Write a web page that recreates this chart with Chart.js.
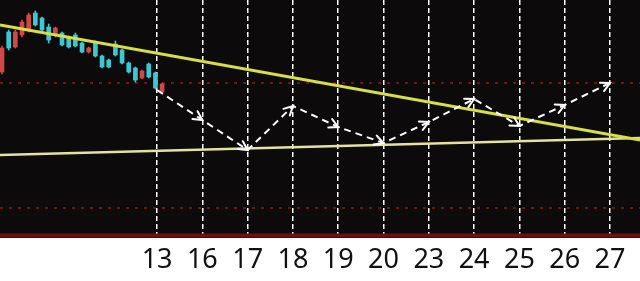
<!DOCTYPE html>
<html>
<head>
<meta charset="utf-8">
<script src="https://cdn.jsdelivr.net/npm/chart.js@4"></script>
<style>
  html, body { margin: 0; padding: 0; background: #ffffff; }
  #wrap { width: 640px; height: 281px; }
</style>
</head>
<body>
<div id="wrap"><canvas id="c"></canvas></div>
<script>
// Trading days marked along the bottom
const dayLabels = ['13', '16', '17', '18', '19', '20', '23', '24', '25', '26', '27'];
// Projected zig-zag path, one value per marked day
const projection = [11.48, 11.18, 10.88, 11.32, 11.11, 10.95, 11.16, 11.39, 11.12, 11.33, 11.55];

// Daily candles (open / close / high / low)
const opens  = [11.66, 12.06, 11.91, 12.03, 12.08, 12.25, 12.20, 12.11, 12.03, 12.05, 12.00, 12.03, 11.95,
                11.86, 11.96, 11.82, 11.78, 11.94, 11.88, 11.75, 11.70, 11.60, 11.74, 11.65, 11.46];
const closes = [11.90, 11.90, 12.06, 12.16, 12.23, 12.13, 12.08, 11.98, 12.10, 11.93, 11.91, 11.92, 11.86,
                11.90, 11.82, 11.71, 11.71, 11.83, 11.75, 11.66, 11.58, 11.67, 11.61, 11.50, 11.54];
const highs  = [11.92, 12.08, 12.08, 12.18, 12.25, 12.27, 12.21, 12.14, 12.11, 12.06, 12.02, 12.05, 11.96,
                11.91, 11.97, 11.83, 11.79, 11.97, 11.89, 11.76, 11.71, 11.68, 11.75, 11.66, 11.55];
const lows   = [11.64, 11.88, 11.90, 12.01, 12.06, 12.12, 12.06, 11.95, 12.01, 11.92, 11.90, 11.91, 11.85,
                11.85, 11.81, 11.70, 11.70, 11.82, 11.74, 11.65, 11.56, 11.59, 11.60, 11.49, 11.44];

// Trend lines: value at the left edge and at the right edge
const resistance = [12.13, 10.98];
const support    = [10.83, 11.00];
// Dotted reference levels and the solid floor line
const levels = [11.55, 10.30];
const floorLevel = 10.025;

// Horizontal scale: one unit per candle
const X_MIN = -0.3, X_MAX = 95.65;
const DAY0 = 23.25, DAY_STEP = 6.79;
const dayX = k => DAY0 + k * DAY_STEP;

const UP = '#d04848', DOWN = '#3ec6d2';
const candleColor = ctx => {
  const i = ctx.dataIndex;
  return closes[i] >= opens[i] ? UP : DOWN;
};

const bodies = opens.map((o, i) => ({ x: i, y: [o, closes[i]] }));
const wicks  = highs.map((h, i) => ({ x: i, y: [lows[i], h] }));
const flat = v => [{ x: X_MIN, y: v }, { x: X_MAX, y: v }];

// Black plotting field
const fieldBg = {
  id: 'fieldBg',
  beforeDraw(chart) {
    const { ctx, chartArea: a } = chart;
    ctx.save();
    ctx.fillStyle = '#0c0a0a';
    ctx.fillRect(a.left, a.top, a.right - a.left, a.bottom - a.top);
    ctx.restore();
  }
};

// Open arrowheads at the end of each leg of the projected path
const arrowHeads = {
  id: 'arrowHeads',
  afterDatasetsDraw(chart) {
    const idx = chart.data.datasets.findIndex(d => d.label === 'projection');
    const pts = chart.getDatasetMeta(idx).data;
    const { ctx } = chart;
    ctx.save();
    ctx.strokeStyle = '#ffffff';
    ctx.lineWidth = 2;
    ctx.lineCap = 'round';
    ctx.setLineDash([]);
    const len = 10, spread = Math.PI / 6.5;
    for (let i = 1; i < pts.length; i++) {
      const p = pts[i], q = pts[i - 1];
      const ang = Math.atan2(p.y - q.y, p.x - q.x);
      ctx.beginPath();
      ctx.moveTo(p.x - len * Math.cos(ang - spread), p.y - len * Math.sin(ang - spread));
      ctx.lineTo(p.x, p.y);
      ctx.lineTo(p.x - len * Math.cos(ang + spread), p.y - len * Math.sin(ang + spread));
      ctx.stroke();
    }
    ctx.restore();
  }
};

new Chart(document.getElementById('c'), {
  type: 'bar',
  data: {
    datasets: [
      { type: 'line', label: 'level-hi', data: flat(levels[0]),
        borderColor: '#6a1616', borderWidth: 2, borderDash: [3, 6], pointRadius: 0, order: 9 },
      { type: 'line', label: 'level-lo', data: flat(levels[1]),
        borderColor: '#6a1616', borderWidth: 2, borderDash: [3, 6], pointRadius: 0, order: 9 },
      { type: 'line', label: 'floor', data: flat(floorLevel),
        borderColor: '#6b1013', borderWidth: 4, pointRadius: 0, order: 9 },
      { label: 'wicks', data: wicks, backgroundColor: candleColor, barThickness: 1, grouped: false, order: 5 },
      { label: 'bodies', data: bodies, backgroundColor: candleColor, barThickness: 4, grouped: false, order: 4 },
      { type: 'line', label: 'support', data: [{ x: X_MIN, y: support[0] }, { x: X_MAX, y: support[1] }],
        borderColor: '#e2e39c', borderWidth: 2.5, pointRadius: 0, order: 3 },
      { type: 'line', label: 'resistance', data: [{ x: X_MIN, y: resistance[0] }, { x: X_MAX, y: resistance[1] }],
        borderColor: '#d6e045', borderWidth: 3, pointRadius: 0, order: 2 },
      { type: 'line', label: 'projection', data: projection.map((v, k) => ({ x: dayX(k), y: v })),
        borderColor: '#ffffff', borderWidth: 2, borderDash: [7, 5], pointRadius: 0, order: 1 }
    ]
  },
  options: {
    responsive: true,
    maintainAspectRatio: false,
    animation: false,
    layout: { padding: 0 },
    plugins: { legend: { display: false }, tooltip: { enabled: false } },
    scales: {
      x: {
        type: 'linear',
        min: X_MIN,
        max: X_MAX,
        offset: false,
        afterBuildTicks: scale => { scale.ticks = dayLabels.map((_, k) => ({ value: dayX(k) })); },
        afterFit: scale => { scale.height = 43; },
        ticks: {
          autoSkip: false,
          maxRotation: 0,
          padding: 6,
          color: '#111111',
          font: { family: 'Noto Sans', size: 27, lineHeight: 1.2 },
          callback: (value, index) => dayLabels[index]
        },
        grid: { offset: false, color: '#ffffff', lineWidth: 1.5, drawTicks: false },
        border: { display: false, dash: [5, 3] }
      },
      y: {
        display: false,
        min: 10.0,
        max: 12.38
      }
    }
  },
  plugins: [fieldBg, arrowHeads]
});
</script>
</body>
</html>
